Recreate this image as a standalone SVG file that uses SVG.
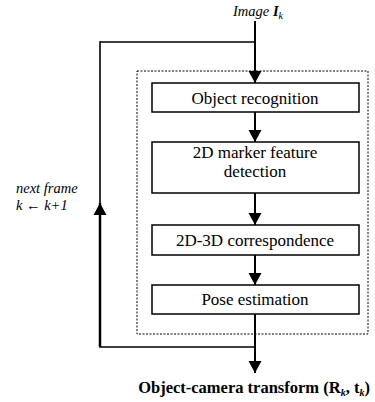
<svg xmlns="http://www.w3.org/2000/svg" width="375" height="402" viewBox="0 0 375 402">
<style>
.box{fill:#fff;stroke:#000;stroke-width:1.5}
.t{font-family:"Liberation Serif","Times New Roman",serif;font-size:17px;fill:#000;text-anchor:middle}
.ln{fill:none;stroke:#000;stroke-width:2}
.it{font-family:"Liberation Serif","Times New Roman",serif;font-style:italic;font-size:14.5px;fill:#000}
</style>
<defs>
<marker id="ah" markerWidth="14" markerHeight="14" refX="12" refY="7" orient="auto" markerUnits="userSpaceOnUse">
<path d="M0,0.5 L12,7 L0,13.5 z" fill="#000"/>
</marker>
</defs>
<rect x="137" y="71" width="231" height="263" fill="none" stroke="#000" stroke-width="1" stroke-dasharray="2,1.5"/>
<g id="connectors">
<line class="ln" x1="255" y1="21" x2="255" y2="83" marker-end="url(#ah)"/>
<line x1="100" y1="42" x2="255" y2="42" stroke="#000" stroke-width="1.6"/>
<line x1="100" y1="347" x2="100" y2="41.2" stroke="#000" stroke-width="1.6"/>
<line x1="100" y1="347" x2="100" y2="203" stroke="#000" stroke-width="2.5" marker-end="url(#ah)"/>
<line class="ln" x1="255" y1="112" x2="255" y2="142" marker-end="url(#ah)"/>
<line class="ln" x1="255" y1="193" x2="255" y2="225" marker-end="url(#ah)"/>
<line class="ln" x1="255" y1="255" x2="255" y2="285" marker-end="url(#ah)"/>
<line class="ln" x1="255" y1="314" x2="255" y2="373" marker-end="url(#ah)"/>
<line x1="99.2" y1="347" x2="255" y2="347" stroke="#000" stroke-width="1.6"/>
</g>
<g id="n1"><rect class="box" x="152" y="83" width="207" height="29"/><text class="t" x="255" y="104">Object recognition</text></g>
<g id="n2"><rect class="box" x="152" y="142" width="207" height="51"/><text class="t" x="255" y="158">2D marker feature</text><text class="t" x="255" y="177">detection</text></g>
<g id="n3"><rect class="box" x="152" y="225" width="207" height="30"/><text class="t" x="255" y="246">2D-3D correspondence</text></g>
<g id="n4"><rect class="box" x="152" y="285" width="207" height="29"/><text class="t" x="255" y="305">Pose estimation</text></g>
<g id="input"><text class="it" x="283" y="16" text-anchor="end" font-size="17.5">Image <tspan font-weight="bold">I</tspan><tspan font-size="10" dy="3">k</tspan></text></g>
<g id="loop-label"><text class="it" x="16" y="193">next frame</text><text class="it" x="16" y="210">k ← k+1</text></g>
<g id="output"><text x="254" y="393" font-family="Liberation Serif,'Times New Roman',serif" font-weight="bold" font-size="16.5" text-anchor="middle">Object-camera transform (R<tspan font-size="10" dy="3" font-style="italic">k</tspan><tspan dy="-3">, t</tspan><tspan font-size="10" dy="3" font-style="italic">k</tspan><tspan dy="-3">)</tspan></text></g>
</svg>
